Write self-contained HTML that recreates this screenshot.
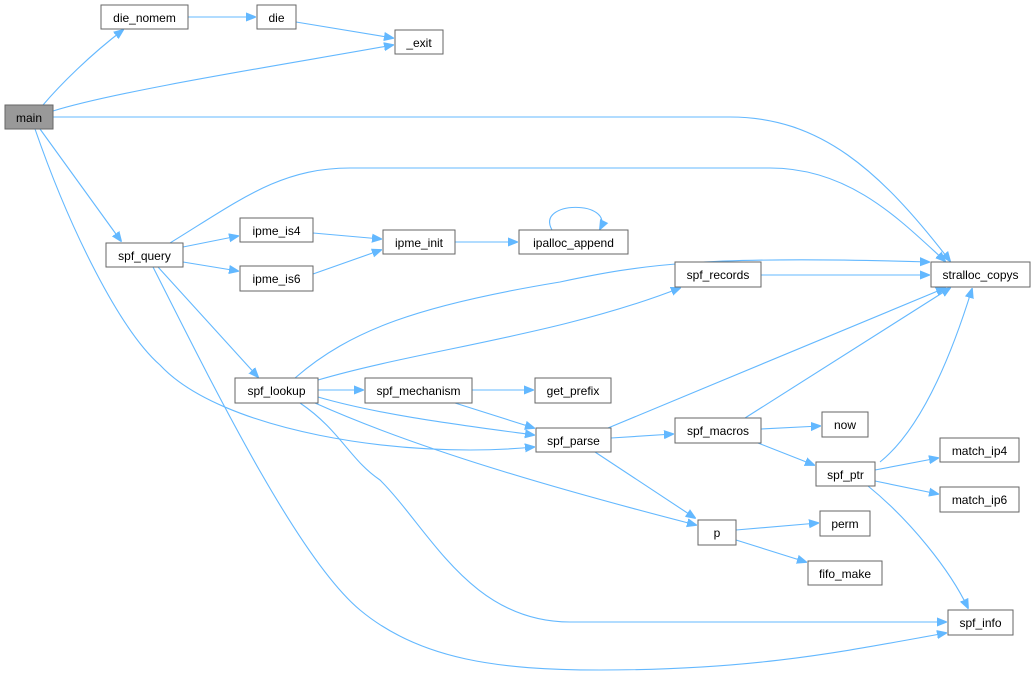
<!DOCTYPE html>
<html><head><meta charset="utf-8"><style>
html,body{margin:0;padding:0;background:#fff;width:1035px;height:679px;overflow:hidden}
svg text{font-family:"Liberation Sans",Arial,sans-serif;font-size:12px;fill:#000}
</style></head><body>
<svg width="1035" height="679" viewBox="0 0 1035 679" xmlns="http://www.w3.org/2000/svg">
<defs><marker id="a" viewBox="0 0 10 10" refX="9" refY="5" markerWidth="10" markerHeight="10" markerUnits="userSpaceOnUse" orient="auto"><path d="M0,1 L10,5 L0,9 z" fill="#63b8ff" stroke="#63b8ff"/></marker></defs>
<g fill="none" stroke="#63b8ff" stroke-width="1.1" marker-end="url(#a)">
<path d="M43,105 C60,85 90,55 123,30"/>
<path d="M188,17 L255,17"/>
<path d="M296,22 L393,38"/>
<path d="M53,111 C120,90 300,62 393,45"/>
<path d="M53,117 L730,117 C820,117 880,170 950,261"/>
<path d="M40,129 L121,241"/>
<path d="M35,129 C70,230 120,330 160,365 C220,430 400,460 534,447"/>
<path d="M170,243 C240,200 280,168 350,168 L770,168 C850,168 900,220 945,261"/>
<path d="M183,247 L238,236"/>
<path d="M183,262 L238,271"/>
<path d="M158,267 L258,377"/>
<path d="M153,267 C220,400 300,560 360,610 C420,660 500,670 600,670 C760,670 850,650 946,633"/>
<path d="M313,233 L381,239"/>
<path d="M313,274 L381,250"/>
<path d="M455,242 L517,242"/>
<path d="M552,230 C535,200 615,200 600,229"/>
<path d="M761,275 L929,275"/>
<path d="M295,378 C350,330 420,305 560,282 C640,265 700,255 929,262"/>
<path d="M318,380 C420,350 560,335 680,288"/>
<path d="M318,390 L363,390"/>
<path d="M318,397 C380,415 460,425 534,435"/>
<path d="M315,403 C420,450 560,490 696,525"/>
<path d="M300,403 C340,430 350,460 380,480 C430,530 470,622 570,622 L946,622"/>
<path d="M472,390 L533,390"/>
<path d="M455,403 L534,428"/>
<path d="M608,428 L945,288"/>
<path d="M611,438 L673,434"/>
<path d="M595,452 L695,518"/>
<path d="M745,418 L950,288"/>
<path d="M761,429 L820,426"/>
<path d="M758,443 L814,465"/>
<path d="M880,462 C920,430 950,360 972,289"/>
<path d="M875,470 L938,458"/>
<path d="M875,481 L938,494"/>
<path d="M868,486 C910,520 950,570 968,608"/>
<path d="M736,530 L818,523"/>
<path d="M736,540 L806,562"/>
</g>
<g stroke="#666" stroke-width="1" fill="#fff">
<rect x="5" y="105" width="48" height="24" fill="#999"/>
<rect x="101" y="5" width="87" height="24"/>
<rect x="257" y="5" width="39" height="24"/>
<rect x="395" y="30" width="48" height="24"/>
<rect x="931" y="262" width="99" height="25"/>
<rect x="106" y="243" width="77" height="24"/>
<rect x="240" y="218" width="73" height="24"/>
<rect x="240" y="266" width="73" height="25"/>
<rect x="383" y="230" width="72" height="24"/>
<rect x="519" y="230" width="109" height="24"/>
<rect x="675" y="262" width="86" height="25"/>
<rect x="235" y="378" width="83" height="25"/>
<rect x="365" y="378" width="107" height="25"/>
<rect x="535" y="378" width="76" height="25"/>
<rect x="536" y="428" width="75" height="24"/>
<rect x="675" y="418" width="86" height="25"/>
<rect x="822" y="412" width="46" height="25"/>
<rect x="816" y="462" width="59" height="24"/>
<rect x="940" y="438" width="79" height="24"/>
<rect x="940" y="487" width="79" height="25"/>
<rect x="698" y="520" width="38" height="25"/>
<rect x="820" y="511" width="50" height="25"/>
<rect x="808" y="561" width="74" height="24"/>
<rect x="948" y="610" width="65" height="25"/>
</g>
<g text-anchor="middle">
<text x="29" y="122">main</text>
<text x="144.5" y="22">die_nomem</text>
<text x="276.5" y="22">die</text>
<text x="419" y="47">_exit</text>
<text x="980.5" y="279">stralloc_copys</text>
<text x="144.5" y="260">spf_query</text>
<text x="276.5" y="235">ipme_is4</text>
<text x="276.5" y="283">ipme_is6</text>
<text x="419" y="247">ipme_init</text>
<text x="573.5" y="247">ipalloc_append</text>
<text x="718" y="279">spf_records</text>
<text x="276.5" y="395">spf_lookup</text>
<text x="418.5" y="395">spf_mechanism</text>
<text x="573" y="395">get_prefix</text>
<text x="573.5" y="445">spf_parse</text>
<text x="718" y="435">spf_macros</text>
<text x="845" y="429">now</text>
<text x="845.5" y="479">spf_ptr</text>
<text x="979.5" y="455">match_ip4</text>
<text x="979.5" y="504">match_ip6</text>
<text x="717" y="537">p</text>
<text x="845" y="528">perm</text>
<text x="845" y="578">fifo_make</text>
<text x="980.5" y="627">spf_info</text>
</g>
</svg>
</body></html>
